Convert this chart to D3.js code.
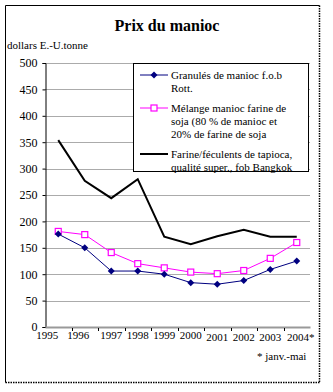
<!DOCTYPE html>
<html>
<head>
<meta charset="utf-8">
<script src="https://cdn.jsdelivr.net/npm/d3@7"></script>
<style>
	body { margin: 0; background: #fff; }
	text { font-family: "Liberation Serif", "DejaVu Serif", serif; }
</style>
</head>
<body>
<div id="chart"></div>
<script>
// Years on the category axis
const years = ['1995', '1996', '1997', '1998', '1999', '2000', '2001', '2002', '2003', '2004*'];

// Series values (dollars E.-U. / tonne)
const granules = [176, 150, 106, 106, 100, 84, 81, 88, 109, 125];
const melange = [181, 175, 141, 120, 112, 104, 101, 107, 130, 160];
const farine = [354, 277, 244, 280, 171, 157, 172, 184, 171, 171];

const yTicks = [0, 50, 100, 150, 200, 250, 300, 350, 400, 450, 500];

const legendItems = [
	{ lines: ['Granulés de manioc f.o.b', 'Rott.'], color: '#000080', marker: 'diamond', width: 1 },
	{ lines: ['Mélange manioc farine de', 'soja (80 % de manioc et', '20% de farine de soja'], color: '#ff00ff', marker: 'square', width: 1 },
	{ lines: ['Farine/féculents de tapioca,', 'qualité super., fob Bangkok'], color: '#000000', marker: null, width: 2 }
];

const seriesList = [
	{ values: farine, color: '#000000', marker: null, width: 2 },
	{ values: melange, color: '#ff00ff', marker: 'square', width: 1 },
	{ values: granules, color: '#000080', marker: 'diamond', width: 1 }
];

const width = 333;
const height = 392;
const plot = { left: 45, right: 310, top: 63, bottom: 327 };
const serif = '"Liberation Serif", "DejaVu Serif", serif';

const svg = d3.select('#chart')
	.append('svg')
	.attr('width', width)
	.attr('height', height)
	.attr('font-family', serif);

// Outer frame: solid on top/left, dotted on right/bottom
const frame = svg.append('g');
frame.append('line').attr('x1', 5.5).attr('y1', 5.5).attr('x2', 319.5).attr('y2', 5.5).attr('stroke', '#000');
frame.append('line').attr('x1', 5.5).attr('y1', 5.5).attr('x2', 5.5).attr('y2', 382.5).attr('stroke', '#000');
frame.append('line').attr('x1', 319.5).attr('y1', 5.5).attr('x2', 319.5).attr('y2', 382.5)
	.attr('stroke', '#000').attr('stroke-width', 1.5).attr('stroke-dasharray', '1.5,1');
frame.append('line').attr('x1', 5.5).attr('y1', 382.5).attr('x2', 319.5).attr('y2', 382.5)
	.attr('stroke', '#000').attr('stroke-width', 1.5).attr('stroke-dasharray', '1.5,1');

// Title and unit label
svg.append('text')
	.attr('x', 167).attr('y', 31)
	.attr('text-anchor', 'middle')
	.attr('font-family', serif)
	.style('font-size', '16px')
	.style('font-weight', 'bold')
	.text('Prix du manioc');

svg.append('text')
	.attr('x', 7).attr('y', 49)
	.attr('font-family', serif)
	.style('font-size', '11px')
	.text('dollars E.-U.tonne');

// Scales
const x = d3.scaleBand().domain(years).range([plot.left, plot.right]);
const y = d3.scaleLinear().domain([0, 500]).range([plot.bottom, plot.top]);

// Gridlines
svg.append('g')
	.selectAll('line')
	.data(yTicks.filter((d) => d > 0))
	.enter()
	.append('line')
	.attr('x1', plot.left)
	.attr('x2', plot.right)
	.attr('y1', (d) => Math.round(y(d)) + 0.5)
	.attr('y2', (d) => Math.round(y(d)) + 0.5)
	.attr('stroke', '#ababab');

// Y axis
const yAxis = svg.append('g')
	.attr('transform', `translate(${plot.left + 0.5},0)`)
	.call(d3.axisLeft(y).tickValues(yTicks).tickSize(3).tickPadding(5))
	.attr('font-family', serif)
	.attr('font-size', 12);
yAxis.select('.domain').attr('stroke', '#000');
yAxis.selectAll('.tick line').attr('stroke', '#000');
yAxis.selectAll('text').attr('fill', '#000');

// X axis (the zero line is gray)
const xAxis = svg.append('g')
	.attr('transform', `translate(0,${plot.bottom})`)
	.call(d3.axisBottom(x).tickSize(0).tickPadding(3))
	.attr('font-family', serif)
	.attr('font-size', 11);
xAxis.select('.domain').attr('stroke', '#999').attr('stroke-width', 2);
xAxis.selectAll('text')
	.attr('fill', '#000')
	.attr('dx', (d, i) => (i === 0 ? -11 : i === 1 ? -6.5 : i === 9 ? 4 : 0))
	.attr('dy', (d, i) => (i >= 6 ? '1.0em' : '0.8em'));

// Small tick marks at category boundaries
svg.append('g')
	.selectAll('line')
	.data(years.slice(1))
	.enter()
	.append('line')
	.attr('x1', (d) => Math.round(x(d)) + 0.5)
	.attr('x2', (d) => Math.round(x(d)) + 0.5)
	.attr('y1', plot.bottom + 1)
	.attr('y2', plot.bottom + 4)
	.attr('stroke', '#000');

// Series lines and markers
const line = d3.line()
	.x((d, i) => x(years[i]) + x.bandwidth() / 2)
	.y((d) => y(d));

function drawMarker(g, type, color, cx, cy) {
	if (type === 'diamond') {
		g.append('path')
			.attr('d', `M${cx},${cy - 3.5}L${cx + 3.5},${cy}L${cx},${cy + 3.5}L${cx - 3.5},${cy}Z`)
			.attr('fill', color);
	} else if (type === 'square') {
		g.append('rect')
			.attr('x', cx - 3).attr('y', cy - 3)
			.attr('width', 6).attr('height', 6)
			.attr('fill', '#fff')
			.attr('stroke', color)
			.attr('stroke-width', 1.2);
	}
}

seriesList.forEach((s) => {
	const g = svg.append('g');
	g.append('path')
		.datum(s.values)
		.attr('d', line)
		.attr('fill', 'none')
		.attr('stroke', s.color)
		.attr('stroke-width', s.width);
	if (s.marker) {
		s.values.forEach((v, i) => {
			drawMarker(g, s.marker, s.color, x(years[i]) + x.bandwidth() / 2, y(v));
		});
	}
});

// Legend
const legend = svg.append('g');
legend.append('rect')
	.attr('x', 133.5).attr('y', 63.5)
	.attr('width', 175).attr('height', 108)
	.attr('fill', '#fff')
	.attr('stroke', '#000');

let ly = 75;
legendItems.forEach((item) => {
	legend.append('line')
		.attr('x1', 140).attr('x2', 168)
		.attr('y1', ly).attr('y2', ly)
		.attr('stroke', item.color)
		.attr('stroke-width', item.width);
	if (item.marker) drawMarker(legend, item.marker, item.color, 154, ly);
	item.lines.forEach((t, j) => {
		legend.append('text')
			.attr('x', 171)
			.attr('y', ly + j * 13 + 4)
			.attr('font-family', serif)
			.style('font-size', '11px')
			.text(t);
	});
	ly += item.lines.length * 13 + 7;
});

// Footnote
svg.append('text')
	.attr('x', 257).attr('y', 360)
	.attr('font-family', serif)
	.style('font-size', '11px')
	.text('* janv.-mai');
</script>
</body>
</html>
